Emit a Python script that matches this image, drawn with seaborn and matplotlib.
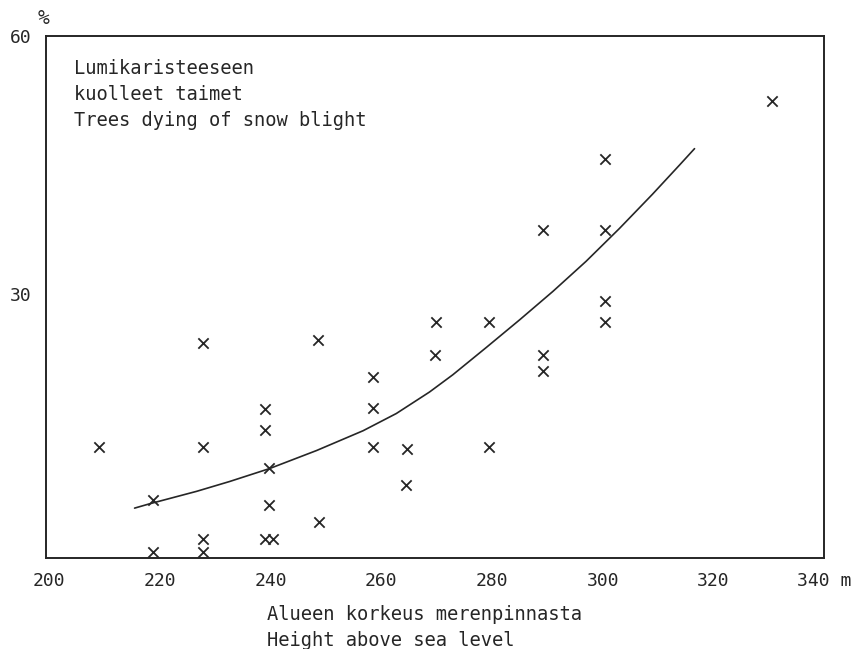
import numpy as np
import pandas as pd
import matplotlib
matplotlib.use("Agg")
import matplotlib.pyplot as plt
import seaborn as sns

# ---- data ----
height_m = [209.0, 218.7, 218.7, 227.8, 227.7, 227.7, 227.7,
            239.0, 239.0, 239.7, 239.7, 239.0, 240.4,
            248.6, 248.7,
            258.5, 258.5, 258.5, 264.6, 264.5,
            269.8, 269.7, 279.5, 279.5,
            289.2, 289.2, 289.2,
            300.5, 300.5, 300.5, 300.5,
            330.6]
dead_pct = [12.2, 6.0, 0.0, 24.3, 12.2, 1.5, 0.0,
            16.6, 14.2, 9.8, 5.5, 1.5, 1.5,
            24.7, 3.5,
            20.4, 16.7, 12.2, 12.0, 7.8,
            26.7, 22.9, 26.7, 12.2,
            37.4, 22.9, 21.0,
            45.7, 37.4, 29.2, 26.8,
            52.4]

# fitted curve
curve_x = [215.4, 218.1, 226.6, 232.6, 239.8, 248.3, 256.7, 262.7, 268.7,
           272.9, 279.0, 285.0, 291.0, 297.0, 303.0, 309.0, 313.9, 316.6]
curve_y = [5.1, 5.6, 7.05, 8.2, 9.7, 11.8, 14.1, 16.1, 18.6,
           20.6, 23.8, 27.0, 30.3, 33.8, 37.6, 41.6, 45.0, 46.9]

x_ticks = [200, 220, 240, 260, 280, 300, 320, 340]
x_tick_labels = ["200", "220", "240", "260", "280", "300", "320", "340 m"]
y_ticks = [30, 60]
y_tick_labels = ["30", "60"]

legend_lines = ["Lumikaristeeseen", "kuolleet taimet", "Trees dying of snow blight"]
xlabel_lines = ["Alueen korkeus merenpinnasta", "Height above sea level"]
y_unit = "%"

# ---- styling ----
sns.set_theme(style="white")
plt.rcParams["font.family"] = ["DejaVu Sans Mono", "DejaVu Sans"]
ink = "#262626"

W, H = 856, 649
fig = plt.figure(figsize=(W / 100, H / 100), dpi=100)
fig.patch.set_facecolor("white")
left, right, top, bottom = 45.5, 824, 36, 558
ax = fig.add_axes([left / W, 1 - bottom / H, (right - left) / W, (bottom - top) / H])
ax.set_facecolor("white")

pts = pd.DataFrame({"h": height_m, "p": dead_pct})
crv = pd.DataFrame({"h": curve_x, "p": curve_y})

sns.scatterplot(data=pts, x="h", y="p", marker="x", s=55, color=ink,
                linewidth=1.3, ax=ax, zorder=3)
sns.lineplot(data=crv, x="h", y="p", color=ink, linewidth=1.2, ax=ax,
             sort=True, estimator=None)

ax.set_xlim(199.3, 340)
ax.set_ylim(-0.7, 60)

for sp in ax.spines.values():
    sp.set_visible(True)
    sp.set_color(ink)
    sp.set_linewidth(1.4)

ax.set_xticks(x_ticks)
ax.set_xticklabels(x_tick_labels)
ax.set_yticks(y_ticks)
ax.set_yticklabels(y_tick_labels)
ax.tick_params(axis="x", direction="in", length=7, width=1.3, color=ink,
               labelsize=13, labelcolor=ink, pad=10)
ax.tick_params(axis="y", direction="in", length=8, width=1.3, color=ink,
               labelsize=13, labelcolor=ink, pad=10)
ax.set_xlabel("")
ax.set_ylabel("")

# unit above y axis
fig.text(44 / W, 1 - 19 / H, y_unit, ha="center", va="center",
         fontsize=14, color=ink)

# title text inside plot
for line, yy in zip(legend_lines, [68, 95, 120]):
    fig.text(74 / W, 1 - yy / H, line, ha="left", va="center",
             fontsize=13.5, color=ink)

# axis label lines
for line, yy in zip(xlabel_lines, [615, 641]):
    fig.text(267 / W, 1 - yy / H, line, ha="left", va="center",
             fontsize=13.5, color=ink)

fig.savefig("out.png", dpi=100, facecolor="white")
